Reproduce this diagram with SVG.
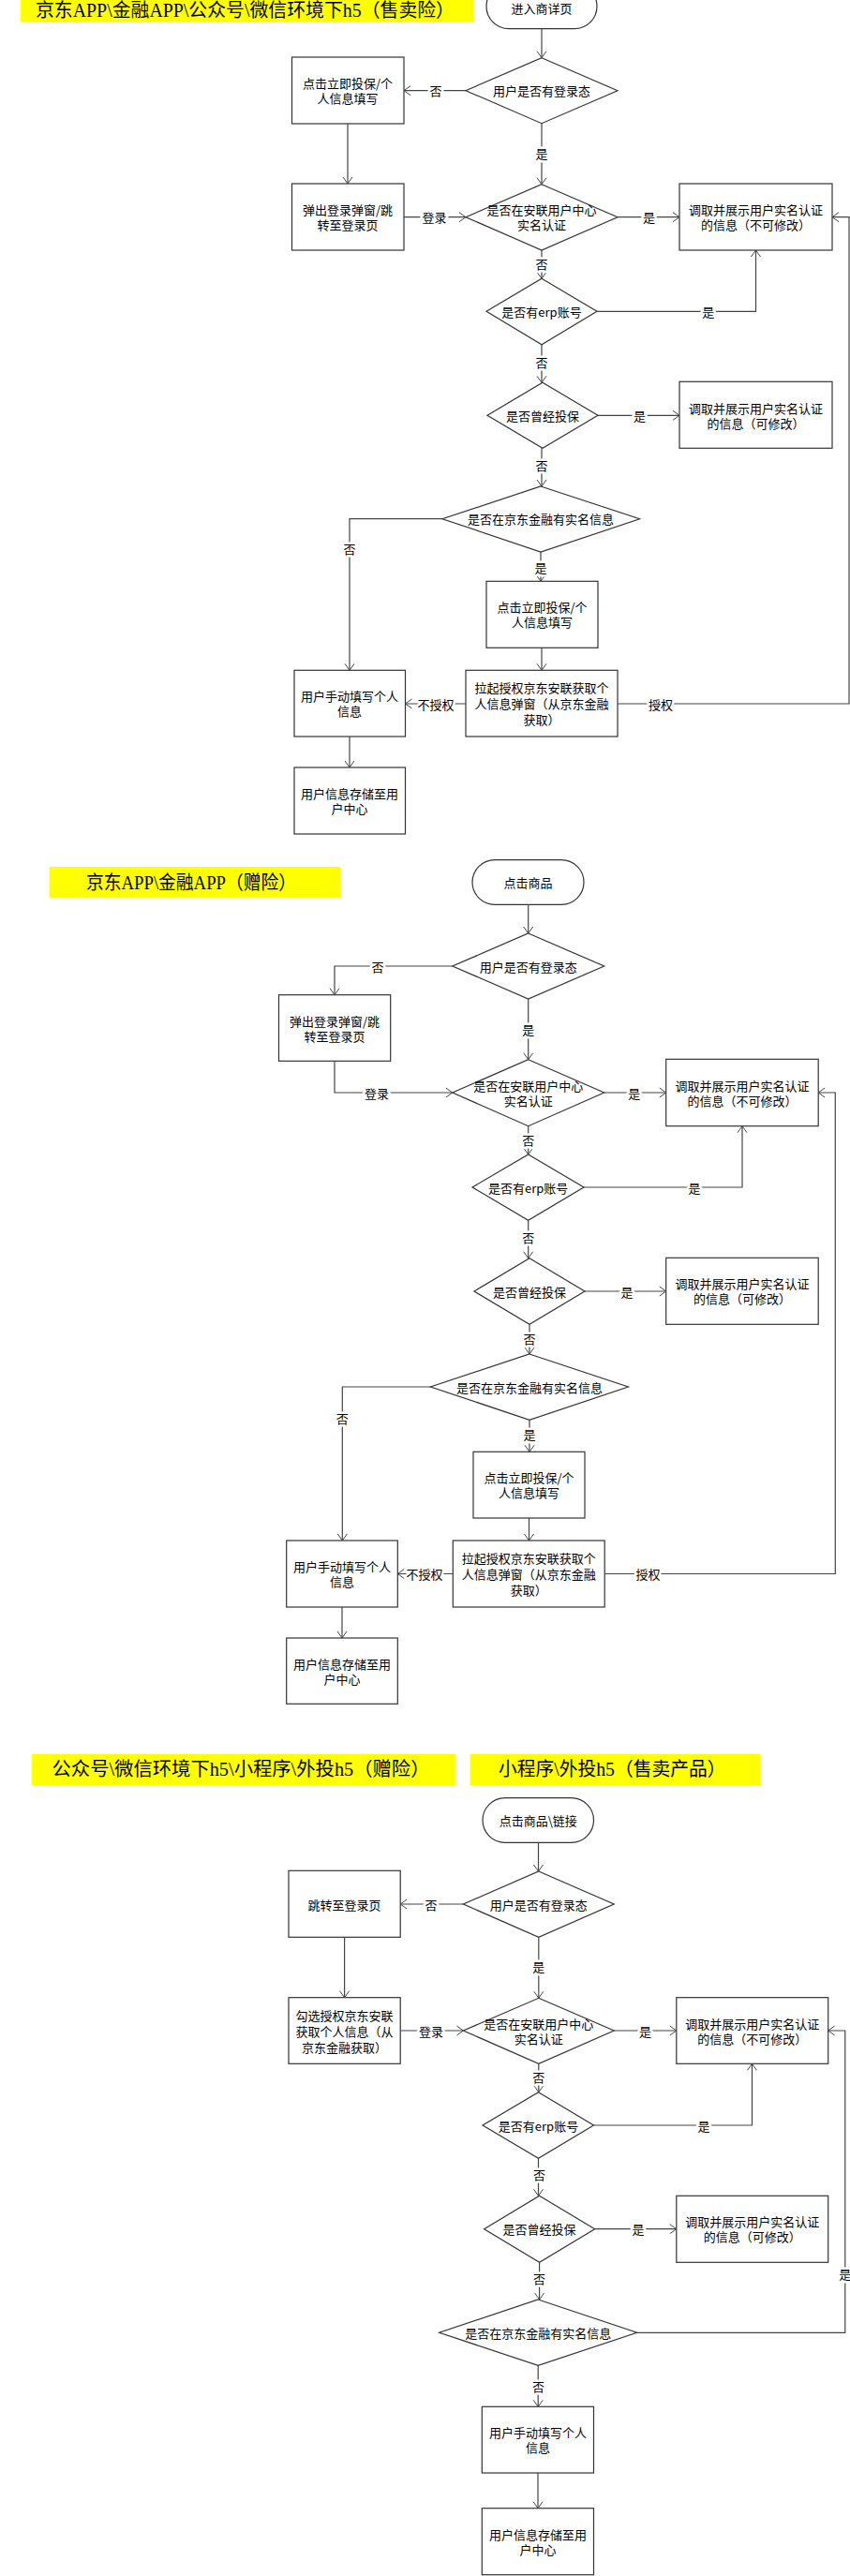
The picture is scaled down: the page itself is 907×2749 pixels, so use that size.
<svg xmlns="http://www.w3.org/2000/svg" width="907" height="2749" viewBox="0 0 907 2749">
<style>
.bx{fill:#fff;stroke:#333;stroke-width:1.2}
.ln{fill:none;stroke:#444;stroke-width:1.2;marker-end:url(#ah)}
.t{font-family:"Noto Sans CJK SC","Noto Sans",sans-serif;font-size:13px;fill:#000;text-anchor:middle;dominant-baseline:central}
.lb{font-family:"Noto Sans CJK SC","Noto Sans",sans-serif;font-size:13px;fill:#000;text-anchor:middle;dominant-baseline:central;stroke:#fff;stroke-width:5;paint-order:stroke;stroke-linejoin:round}
.ty{fill:#ffff00}
.tt{font-family:"Liberation Serif","Noto Sans CJK SC",serif;font-size:20px;fill:#000;dominant-baseline:central}
</style>
<defs>
<marker id="ah" markerWidth="10" markerHeight="12" refX="7" refY="5" orient="auto" markerUnits="userSpaceOnUse" overflow="visible">
<path d="M0,0 L7,5 L0,10" fill="none" stroke="#444" stroke-width="1"/>
</marker>
</defs>
<rect width="907" height="2749" fill="#fff"/>

<!-- ===== Section 1 ===== -->
<g id="title1"><rect class="ty" x="22" y="-20" width="483" height="43.7"/><text class="tt" x="38" y="11" font-size="19" textLength="447" lengthAdjust="spacingAndGlyphs">京东APP\金融APP\公众号\微信环境下h5（售卖险）</text></g>
<g id="s1-start"><rect class="bx" x="519" y="-17.3" width="118" height="48" rx="24" ry="24"/><text class="t" x="578" y="8">进入商详页</text></g>
<g id="s1-d1"><polygon class="bx" points="578,61.7 659,96.7 578,131.7 497,96.7"/><text class="t" x="578" y="96.7">用户是否有登录态</text></g>
<g id="s1-b1"><rect class="bx" x="311.5" y="61" width="119.5" height="71"/><text class="t" x="371" y="88.5">点击立即投保/个</text><text class="t" x="371" y="104.5">人信息填写</text></g>
<g id="s1-b2"><rect class="bx" x="311.5" y="196" width="119.5" height="71"/><text class="t" x="371" y="223.7">弹出登录弹窗/跳</text><text class="t" x="371" y="239.7">转至登录页</text></g>
<g id="s1-d2"><polygon class="bx" points="578,196.7 659,231.7 578,267 497,231.7"/><text class="t" x="578" y="223.7">是否在安联用户中心</text><text class="t" x="578" y="239.7">实名认证</text></g>
<g id="s1-b3"><rect class="bx" x="725" y="196" width="163" height="71"/><text class="t" x="806.5" y="223.7">调取并展示用户实名认证</text><text class="t" x="806.5" y="239.7">的信息（不可修改）</text></g>
<g id="s1-d3"><polygon class="bx" points="578,297.3 637,332.3 578,367.7 519,332.3"/><text class="t" x="578" y="332.3">是否有erp账号</text></g>
<g id="s1-d4"><polygon class="bx" points="579,408.3 638,443.3 579,478.3 520,443.3"/><text class="t" x="579" y="443.3">是否曾经投保</text></g>
<g id="s1-b4"><rect class="bx" x="725" y="407.3" width="163" height="71"/><text class="t" x="806.5" y="435">调取并展示用户实名认证</text><text class="t" x="806.5" y="451">的信息（可修改）</text></g>
<g id="s1-d5"><polygon class="bx" points="577,519 682.6,553.7 577,589 472,553.7"/><text class="t" x="577" y="553.7">是否在京东金融有实名信息</text></g>
<g id="s1-b5"><rect class="bx" x="519" y="620.3" width="119" height="71"/><text class="t" x="578.5" y="647.8">点击立即投保/个</text><text class="t" x="578.5" y="663.8">人信息填写</text></g>
<g id="s1-b6"><rect class="bx" x="497" y="715.3" width="162" height="70.7"/><text class="t" x="578" y="733.7">拉起授权京东安联获取个</text><text class="t" x="578" y="750.7">人信息弹窗（从京东金融</text><text class="t" x="578" y="767.7">获取）</text></g>
<g id="s1-b7"><rect class="bx" x="314" y="715.3" width="118.5" height="70.7"/><text class="t" x="373" y="742.7">用户手动填写个人</text><text class="t" x="373" y="758.7">信息</text></g>
<g id="s1-b8"><rect class="bx" x="314" y="819" width="118.5" height="71"/><text class="t" x="373" y="846.5">用户信息存储至用</text><text class="t" x="373" y="862.5">户中心</text></g>

<!-- ===== Section 2 ===== -->
<g id="title2"><rect class="ty" x="52.6" y="925" width="310.4" height="33.3"/><text class="tt" x="92" y="941.7" textLength="224" lengthAdjust="spacingAndGlyphs">京东APP\金融APP（赠险）</text></g>
<g id="s2-start"><rect class="bx" x="504" y="917.7" width="119" height="47.6" rx="24" ry="24"/><text class="t" x="563.5" y="941.5">点击商品</text></g>
<g id="s2-d1"><polygon class="bx" points="563.7,996 644.7,1031 563.7,1066 482.8,1031"/><text class="t" x="563.7" y="1031">用户是否有登录态</text></g>
<g id="s2-b2"><rect class="bx" x="297.5" y="1061.7" width="119.2" height="70.6"/><text class="t" x="357" y="1089">弹出登录弹窗/跳</text><text class="t" x="357" y="1105">转至登录页</text></g>
<g id="s2-d2"><polygon class="bx" points="563.7,1130.7 644.7,1166 563.7,1201.7 482.8,1166"/><text class="t" x="563.7" y="1158">是否在安联用户中心</text><text class="t" x="563.7" y="1174">实名认证</text></g>
<g id="s2-b3"><rect class="bx" x="710.7" y="1130.3" width="162.5" height="71.4"/><text class="t" x="792" y="1158">调取并展示用户实名认证</text><text class="t" x="792" y="1174">的信息（不可修改）</text></g>
<g id="s2-d3"><polygon class="bx" points="563.7,1232 623,1267 563.7,1302.3 504,1267"/><text class="t" x="563.7" y="1267">是否有erp账号</text></g>
<g id="s2-d4"><polygon class="bx" points="565,1342.7 624,1378 565,1413.3 506,1378"/><text class="t" x="565" y="1378">是否曾经投保</text></g>
<g id="s2-b4"><rect class="bx" x="710.7" y="1342.3" width="162.5" height="71"/><text class="t" x="792" y="1369.8">调取并展示用户实名认证</text><text class="t" x="792" y="1385.8">的信息（可修改）</text></g>
<g id="s2-d5"><polygon class="bx" points="565,1445 670.4,1480 565,1515.3 459.4,1480"/><text class="t" x="565" y="1480">是否在京东金融有实名信息</text></g>
<g id="s2-b5"><rect class="bx" x="505" y="1549.3" width="119" height="70.7"/><text class="t" x="564.5" y="1576.7">点击立即投保/个</text><text class="t" x="564.5" y="1592.7">人信息填写</text></g>
<g id="s2-b6"><rect class="bx" x="483.3" y="1644" width="161.9" height="71"/><text class="t" x="564.3" y="1662.5">拉起授权京东安联获取个</text><text class="t" x="564.3" y="1679.5">人信息弹窗（从京东金融</text><text class="t" x="564.3" y="1696.5">获取）</text></g>
<g id="s2-b7"><rect class="bx" x="305.7" y="1644" width="118.6" height="71"/><text class="t" x="365" y="1671.5">用户手动填写个人</text><text class="t" x="365" y="1687.5">信息</text></g>
<g id="s2-b8"><rect class="bx" x="305.7" y="1748" width="118.6" height="70.3"/><text class="t" x="365" y="1775">用户信息存储至用</text><text class="t" x="365" y="1791">户中心</text></g>

<!-- ===== Section 3 ===== -->
<g id="title3"><rect class="ty" x="33.9" y="1871.7" width="452.4" height="33.3"/><text class="tt" x="55.5" y="1888.3" textLength="403" lengthAdjust="spacingAndGlyphs">公众号\微信环境下h5\小程序\外投h5（赠险）</text></g>
<g id="title4"><rect class="ty" x="501.5" y="1871.7" width="310.3" height="33.3"/><text class="tt" x="532" y="1888.3" textLength="242.5" lengthAdjust="spacingAndGlyphs">小程序\外投h5（售卖产品）</text></g>
<g id="s3-start"><rect class="bx" x="515" y="1918.7" width="118.5" height="47.6" rx="24" ry="24"/><text class="t" x="574.3" y="1942.5">点击商品\链接</text></g>
<g id="s3-d1"><polygon class="bx" points="574.8,1997 655.2,2032 574.8,2067.3 494.4,2032"/><text class="t" x="574.8" y="2032">用户是否有登录态</text></g>
<g id="s3-b1"><rect class="bx" x="308" y="1996.3" width="119.2" height="71"/><text class="t" x="367.6" y="2032">跳转至登录页</text></g>
<g id="s3-b2"><rect class="bx" x="308" y="2131.7" width="119.2" height="70.6"/><text class="t" x="367.6" y="2150">勾选授权京东安联</text><text class="t" x="367.6" y="2167">获取个人信息（从</text><text class="t" x="367.6" y="2184">京东金融获取）</text></g>
<g id="s3-d2"><polygon class="bx" points="574.8,2132.3 655.2,2167 574.8,2202.3 494.4,2167"/><text class="t" x="574.8" y="2159">是否在安联用户中心</text><text class="t" x="574.8" y="2175">实名认证</text></g>
<g id="s3-b3"><rect class="bx" x="721.8" y="2131.7" width="161.9" height="70.6"/><text class="t" x="802.7" y="2159">调取并展示用户实名认证</text><text class="t" x="802.7" y="2175">的信息（不可修改）</text></g>
<g id="s3-d3"><polygon class="bx" points="574.5,2232.7 633.5,2268 574.5,2303.3 515,2268"/><text class="t" x="574.5" y="2268">是否有erp账号</text></g>
<g id="s3-d4"><polygon class="bx" points="575.6,2343.3 634.7,2378.7 575.6,2414.3 516.6,2378.7"/><text class="t" x="575.6" y="2378.7">是否曾经投保</text></g>
<g id="s3-b4"><rect class="bx" x="721.8" y="2343.3" width="161.9" height="71"/><text class="t" x="802.7" y="2370.7">调取并展示用户实名认证</text><text class="t" x="802.7" y="2386.7">的信息（可修改）</text></g>
<g id="s3-d5"><polygon class="bx" points="574.2,2454 679.7,2489.3 574.2,2524.3 468.7,2489.3"/><text class="t" x="574.2" y="2489.3">是否在京东金融有实名信息</text></g>
<g id="s3-b7"><rect class="bx" x="514.3" y="2568.3" width="119.2" height="70.7"/><text class="t" x="574" y="2595.7">用户手动填写个人</text><text class="t" x="574" y="2611.7">信息</text></g>
<g id="s3-b8"><rect class="bx" x="514.3" y="2676.7" width="119.2" height="71"/><text class="t" x="574" y="2704.2">用户信息存储至用</text><text class="t" x="574" y="2720.2">户中心</text></g>

<!-- ===== Connectors ===== -->
<g id="connectors">
<path class="ln" d="M578,30.7 V61.7"/>
<path class="ln" d="M497,96.7 H431"/>
<path class="ln" d="M371,132 V196"/>
<path class="ln" d="M578,131.7 V196.7"/>
<path class="ln" d="M431,231.7 H497"/>
<path class="ln" d="M659,231.7 H725"/>
<path class="ln" d="M578,267 V297.3"/>
<path class="ln" d="M637,332.3 H806.5 V267"/>
<path class="ln" d="M578,367.7 V408.3"/>
<path class="ln" d="M638,443.3 H725"/>
<path class="ln" d="M578,478.3 V519"/>
<path class="ln" d="M472,553.7 H373 V715.3"/>
<path class="ln" d="M577,589 V620.3"/>
<path class="ln" d="M578,691.3 V715.3"/>
<path class="ln" d="M497,751 H432.5"/>
<path class="ln" d="M659,751 H906 V231.7 H888"/>
<path class="ln" d="M373,786 V819"/>
<path class="ln" d="M563.7,965.3 V996"/>
<path class="ln" d="M482.8,1031 H357 V1061.7"/>
<path class="ln" d="M357,1132.3 V1166 H482.8"/>
<path class="ln" d="M563.7,1066 V1130.7"/>
<path class="ln" d="M644.7,1166 H710.7"/>
<path class="ln" d="M563.7,1201.7 V1232"/>
<path class="ln" d="M623,1267 H792 V1201.7"/>
<path class="ln" d="M563.7,1302.3 V1342.7"/>
<path class="ln" d="M624,1378 H710.7"/>
<path class="ln" d="M565,1413.3 V1445"/>
<path class="ln" d="M459.4,1480 H365.3 V1644"/>
<path class="ln" d="M565,1515.3 V1549.3"/>
<path class="ln" d="M564.5,1620 V1644"/>
<path class="ln" d="M483.3,1679.5 H424.3"/>
<path class="ln" d="M645.2,1679.5 H891.3 V1166 H873.2"/>
<path class="ln" d="M365,1715 V1748"/>
<path class="ln" d="M574.5,1966.3 V1997"/>
<path class="ln" d="M494.4,2032 H427.2"/>
<path class="ln" d="M367.6,2067.3 V2131.7"/>
<path class="ln" d="M427.2,2167 H494.4"/>
<path class="ln" d="M574.8,2067.3 V2132.3"/>
<path class="ln" d="M655.2,2167 H721.8"/>
<path class="ln" d="M574.8,2202.3 V2232.7"/>
<path class="ln" d="M633.5,2268 H802.5 V2202.3"/>
<path class="ln" d="M574.5,2303.3 V2343.3"/>
<path class="ln" d="M634.7,2378.7 H721.8"/>
<path class="ln" d="M575.6,2414.3 V2454"/>
<path class="ln" d="M679.7,2489.3 H901.8 V2167 H883.7"/>
<path class="ln" d="M574.2,2524.3 V2568.3"/>
<path class="ln" d="M574,2639 V2676.7"/>
</g>

<g id="labels">
<text class="lb" x="465" y="96.7">否</text>
<text class="lb" x="578" y="163">是</text>
<text class="lb" x="463.5" y="231.7">登录</text>
<text class="lb" x="692.5" y="231.7">是</text>
<text class="lb" x="578" y="281.7">否</text>
<text class="lb" x="755.7" y="332.3">是</text>
<text class="lb" x="578" y="386.7">否</text>
<text class="lb" x="682.6" y="443.3">是</text>
<text class="lb" x="578" y="496.7">否</text>
<text class="lb" x="373" y="585">否</text>
<text class="lb" x="577" y="605.7">是</text>
<text class="lb" x="465" y="751">不授权</text>
<text class="lb" x="705" y="751">授权</text>
<text class="lb" x="403" y="1031">否</text>
<text class="lb" x="402" y="1166">登录</text>
<text class="lb" x="563.7" y="1098">是</text>
<text class="lb" x="676.8" y="1166">是</text>
<text class="lb" x="563.7" y="1216">否</text>
<text class="lb" x="741" y="1267">是</text>
<text class="lb" x="563.7" y="1320.7">否</text>
<text class="lb" x="669" y="1378">是</text>
<text class="lb" x="565" y="1428.3">否</text>
<text class="lb" x="365.3" y="1513">否</text>
<text class="lb" x="565" y="1530.7">是</text>
<text class="lb" x="453" y="1679.5">不授权</text>
<text class="lb" x="691.4" y="1679.5">授权</text>
<text class="lb" x="460" y="2032">否</text>
<text class="lb" x="574.8" y="2098.3">是</text>
<text class="lb" x="460" y="2167">登录</text>
<text class="lb" x="688.5" y="2167">是</text>
<text class="lb" x="574.8" y="2216">否</text>
<text class="lb" x="751" y="2268">是</text>
<text class="lb" x="575.5" y="2320">否</text>
<text class="lb" x="681" y="2378.7">是</text>
<text class="lb" x="575.5" y="2431.7">否</text>
<text class="lb" x="901.8" y="2426.7">是</text>
<text class="lb" x="574.5" y="2546.7">否</text>
</g>
</svg>
